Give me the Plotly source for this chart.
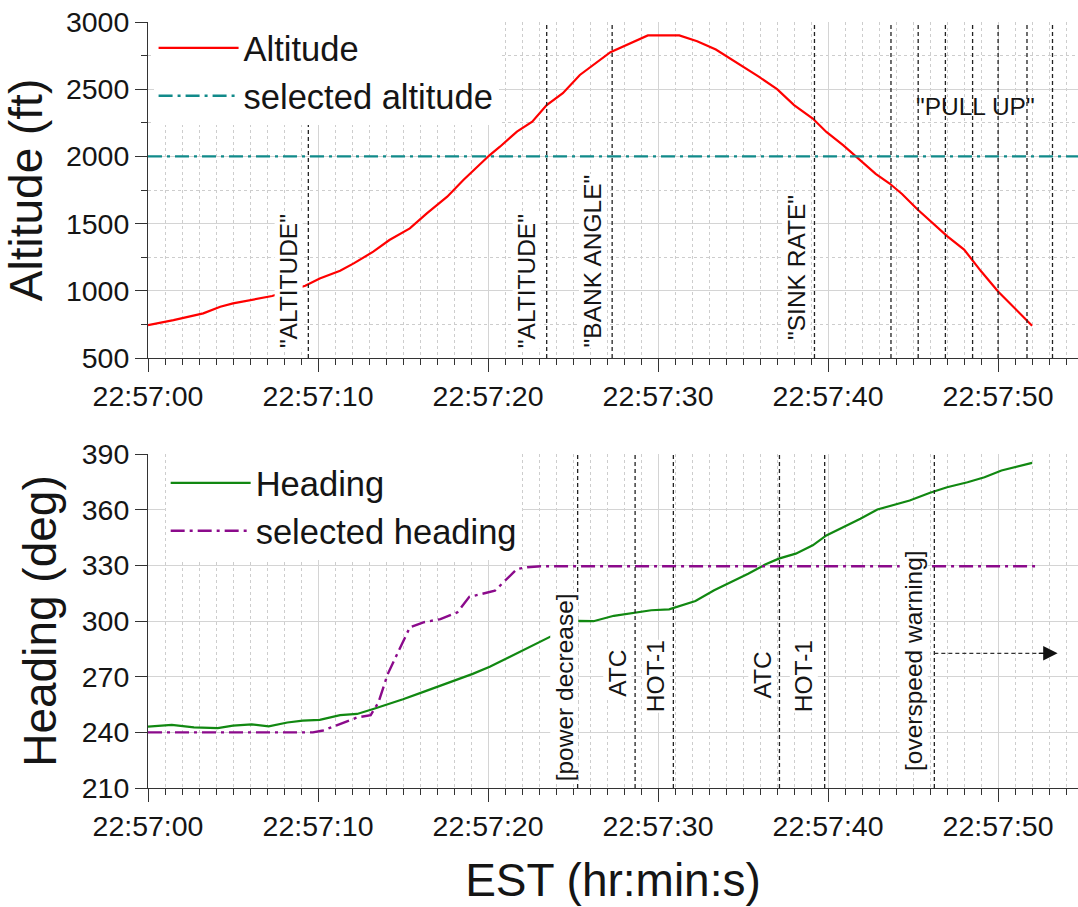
import plotly.graph_objects as go

# ---------------- data (time in seconds after 22:57:00) ----------------
tick_secs = [0, 10, 20, 30, 40, 50]
tick_labels = ["22:57:00", "22:57:10", "22:57:20", "22:57:30", "22:57:40", "22:57:50"]

alt_t = [0, 1.5, 3.25, 4.25, 5.0, 6.0, 7.3, 8.3, 9.25, 10.1, 11.3, 12.1, 13.25, 14.2,
         15.4, 16.4, 17.6, 18.55, 19.5, 20.1, 20.7, 21.7, 22.6, 23.45, 24.4, 25.4,
         27.2, 28.4, 29.4, 31.25, 32.3, 33.4, 34.2, 35.1, 35.9, 37.0, 38.0, 39.1,
         39.9, 40.9, 41.7, 42.8, 43.6, 44.35, 45.25, 46.0, 47.0, 48.0, 49.0, 50.0,
         51.0, 52.0]
alt_v = [745, 782, 832, 881, 906, 931, 961, 1000, 1038, 1092, 1149, 1204, 1291, 1378,
         1464, 1576, 1700, 1824, 1935, 2010, 2072, 2184, 2258, 2382, 2470, 2606,
         2775, 2845, 2900, 2900, 2857, 2795, 2732, 2657, 2595, 2500, 2382, 2282,
         2182, 2082, 1995, 1870, 1800, 1720, 1607, 1520, 1407, 1307, 1145, 995,
         870, 740]

sel_alt_t = [0, 56]
sel_alt_v = [2000, 2000]

hdg_t = [0, 1.4, 2.7, 4.1, 5.0, 6.1, 7.1, 8.2, 9.1, 10.1, 11.3, 12.3, 13.25, 15.0,
         16.2, 17.6, 19.1, 20.1, 20.7, 21.9, 23.1, 24.2, 25.25, 26.2, 27.4, 28.6,
         29.6, 30.65, 32.2, 33.3, 34.5, 35.3, 36.3, 37.1, 38.1, 39.1, 39.9, 40.7,
         41.9, 42.9, 44.8, 46.0, 47.0, 48.2, 49.2, 50.2, 51.2, 52.0]
hdg_v = [243.1, 244, 242.7, 242.3, 243.6, 244.3, 243.2, 245.3, 246.3, 246.7, 249.3,
         249.9, 252.6, 257.8, 261.8, 266.5, 271.5, 275.3, 278, 283.5, 288.6, 294,
         300.1, 299.9, 302.8, 304.6, 305.8, 306.3, 310.8, 316.6, 321.9, 325.5,
         330.4, 333.6, 336.3, 340.8, 346.1, 349.7, 355.1, 360.1, 364.9, 369.1,
         372.1, 374.8, 377.5, 381.1, 383.4, 385.2]

sel_hdg_t = [0, 9.7, 10.3, 11.3, 12.3, 13.1, 13.55, 14.1, 15.0, 15.4, 16.2, 17.2,
             18.2, 18.9, 20.4, 21.7, 22.3, 23.1, 52.2]
sel_hdg_v = [240, 240, 241, 244.5, 248, 249.3, 256, 271.4, 288.5, 296.6, 299.3, 301,
             304.7, 313, 316.3, 328, 329, 329.5, 329.5]

top_event_t = [9.43, 23.45, 27.3, 39.2, 43.7, 45.3, 46.9, 48.5, 50.0, 51.7, 53.2]
bot_event_t = [25.27, 28.65, 30.9, 37.14, 39.8, 46.25]

top_label_text = ['"ALTITUDE"', '"ALTITUDE"', '"BANK ANGLE"', '"SINK RATE"']
top_label_t = [8.3, 22.3, 26.2, 38.1]
top_label_y = [1073, 1073, 1222, 1176]
pull_up_text = '"PULL UP"'
pull_up_pos = (48.7, 2370)

bot_label_text = ["[power decrease]", "ATC", "HOT-1", "ATC", "HOT-1", "[overspeed warning]"]
bot_label_t = [24.5, 27.6, 29.9, 36.15, 38.6, 45.06]
bot_label_y = [264, 271.7, 270.4, 271, 270.4, 278.5]

arrow_start_t, arrow_end_t, arrow_h = 46.25, 53.5, 282.6

# ---------------- figure ----------------
W, H = 1078, 907
FONT = "Liberation Sans, Arial, sans-serif"
INK = "#151515"

fig = go.Figure()
fig.add_trace(go.Scatter(x=alt_t, y=alt_v, mode="lines", name="Altitude",
                         line=dict(color="#ff0000", width=2.2), xaxis="x", yaxis="y",
                         legend="legend"))
fig.add_trace(go.Scatter(x=sel_alt_t, y=sel_alt_v, mode="lines", name="selected altitude",
                         line=dict(color="#118a8a", width=2.4, dash="14px,5px,3px,5px"),
                         xaxis="x", yaxis="y", legend="legend"))
fig.add_trace(go.Scatter(x=hdg_t, y=hdg_v, mode="lines", name="Heading",
                         line=dict(color="#118811", width=2.2), xaxis="x2", yaxis="y2",
                         legend="legend2"))
fig.add_trace(go.Scatter(x=sel_hdg_t, y=sel_hdg_v, mode="lines", name="selected heading",
                         line=dict(color="#8b0a8b", width=2.4, dash="14px,5px,3px,5px"),
                         xaxis="x2", yaxis="y2", legend="legend2"))

def ypx(p):
    return 1 - p / H

XR = [0, 54.7]
TICKFONT = dict(size=28.5, family=FONT, color=INK)
TITLEFONT = dict(size=46, family=FONT, color=INK)
common_x = dict(range=XR, tickmode="array", tickvals=tick_secs, ticktext=tick_labels,
                ticks="outside", ticklen=13, tickwidth=1, tickcolor="#333",
                showline=True, linecolor="#333", linewidth=1, mirror=False,
                showgrid=True, gridcolor="#d4d4d4", gridwidth=1, zeroline=False,
                automargin=False, tickfont=TICKFONT,
                minor=dict(tickmode="linear", tick0=0, dtick=1, ticks="outside", ticklen=6,
                           tickcolor="#333", showgrid=True, gridcolor="#cdcdcd",
                           griddash="dot", gridwidth=1))

fig.update_layout(
    width=W, height=H,
    margin=dict(l=148, r=0, t=0, b=0, autoexpand=False),
    paper_bgcolor="white", plot_bgcolor="white",
    font=dict(family=FONT, color=INK),
    xaxis=dict(domain=[0, 1], anchor="y", **common_x),
    xaxis2=dict(domain=[0, 1], anchor="y2", **common_x,
                title=dict(text="EST (hr:min:s)", font=TITLEFONT, standoff=22)),
    yaxis=dict(domain=[ypx(358), ypx(22)], anchor="x", range=[500, 3000],
               tickmode="linear", tick0=500, dtick=500, ticks="outside", ticklen=12,
               tickcolor="#333", showline=True, linecolor="#333", linewidth=1,
               showgrid=True, gridcolor="#d4d4d4", zeroline=False, automargin=False,
               tickfont=TICKFONT,
               minor=dict(tickmode="linear", tick0=250, dtick=250, ticks="outside",
                          ticklen=6, tickcolor="#333", showgrid=True,
                          gridcolor="#cdcdcd", griddash="dot"),
               title=dict(text="Altitude (ft)", font=TITLEFONT, standoff=10)),
    yaxis2=dict(domain=[ypx(788), ypx(454)], anchor="x2", range=[210, 390],
                tickmode="linear", tick0=210, dtick=30, ticks="outside", ticklen=12,
                tickcolor="#333", showline=True, linecolor="#333", linewidth=1,
                showgrid=True, gridcolor="#d4d4d4", zeroline=False, automargin=False,
                tickfont=TICKFONT,
                title=dict(text="Heading (deg)", font=TITLEFONT, standoff=10)),
    legend=dict(x=0.006, y=ypx(19), xanchor="left", yanchor="top", bgcolor="white",
                borderwidth=0, font=dict(size=34.5, family=FONT, color=INK),
                itemwidth=80, tracegroupgap=0),
    legend2=dict(x=0.019, y=ypx(454), xanchor="left", yanchor="top", bgcolor="white",
                 borderwidth=0, font=dict(size=34.5, family=FONT, color=INK),
                 itemwidth=80, tracegroupgap=0),
    showlegend=True,
)

shapes = []
for t in top_event_t:
    shapes.append(dict(type="line", xref="x", yref="y domain", x0=t, x1=t, y0=0, y1=1,
                       line=dict(color="#222", width=1.3, dash="4px,3px"), layer="above"))
for t in bot_event_t:
    shapes.append(dict(type="line", xref="x2", yref="y2 domain", x0=t, x1=t, y0=0, y1=1,
                       line=dict(color="#222", width=1.3, dash="4px,3px"), layer="above"))
shapes.append(dict(type="line", xref="x2", yref="y2", x0=arrow_start_t, x1=arrow_end_t - 0.8,
                   y0=arrow_h, y1=arrow_h, line=dict(color="#333", width=1.3, dash="4px,3px")))
fig.update_layout(shapes=shapes)

ann = []
for txt, t, y in zip(top_label_text, top_label_t, top_label_y):
    ann.append(dict(x=t, y=y, xref="x", yref="y", text=txt, textangle=-90, showarrow=False,
                    font=dict(size=24.5, family=FONT, color=INK), bgcolor="white", borderpad=0))
ann.append(dict(x=pull_up_pos[0], y=pull_up_pos[1], xref="x", yref="y", text=pull_up_text,
                showarrow=False, font=dict(size=24.5, family=FONT, color=INK)))
for txt, t, y in zip(bot_label_text, bot_label_t, bot_label_y):
    ann.append(dict(x=t, y=y, xref="x2", yref="y2", text=txt, textangle=-90, showarrow=False,
                    font=dict(size=24.5, family=FONT, color=INK), bgcolor="white", borderpad=0))
ann.append(dict(x=arrow_end_t, y=arrow_h, xref="x2", yref="y2", ax=arrow_end_t - 1.2,
                ay=arrow_h, axref="x2", ayref="y2", showarrow=True, arrowhead=2,
                arrowsize=2.4, arrowwidth=1.2, arrowcolor="#111", text=""))
fig.update_layout(annotations=ann)

fig.write_html("out.html")
